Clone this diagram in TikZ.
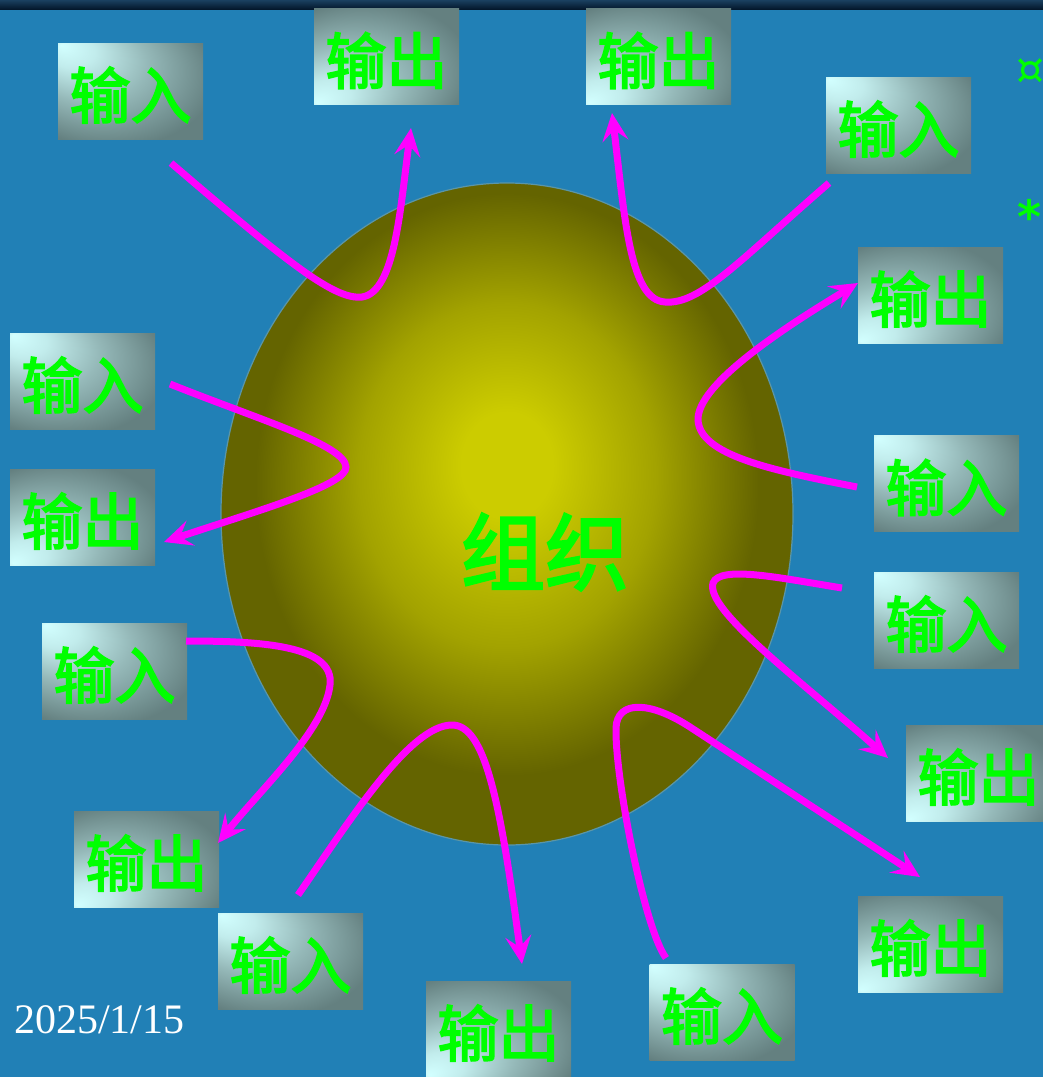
\documentclass[tikz,border=0pt]{standalone}
\usepackage{fontspec}
\setmainfont{Liberation Serif}
\newfontfamily\cjk[FakeBold=3]{Noto Sans CJK SC}
\newfontfamily\symf{DejaVu Sans}
\usetikzlibrary{arrows.meta}
\definecolor{bg}{RGB}{33,128,182}
\definecolor{topbarA}{RGB}{26,64,96}
\definecolor{topbarB}{RGB}{4,24,44}
\definecolor{boxlight}{RGB}{210,255,255}
\definecolor{boxgray}{RGB}{100,128,128}
\definecolor{txtgreen}{RGB}{0,255,0}
\definecolor{arrowc}{RGB}{255,0,255}
\definecolor{ballc}{RGB}{204,204,0}
\definecolor{balle}{RGB}{100,100,0}
\definecolor{balledge}{RGB}{90,150,168}
\pgfdeclareradialshading{inshade}{\pgfpoint{-24bp}{24bp}}{color(0bp)=(boxlight); color(8bp)=(boxlight!85!boxgray); color(20bp)=(boxlight!45!boxgray); color(36bp)=(boxgray); color(50bp)=(boxgray)}
\pgfdeclareradialshading{outshade}{\pgfpoint{-24bp}{-24bp}}{color(0bp)=(boxlight); color(8bp)=(boxlight!85!boxgray); color(20bp)=(boxlight!45!boxgray); color(36bp)=(boxgray); color(50bp)=(boxgray)}
\pgfdeclareradialshading{ballshade}{\pgfpoint{0bp}{4bp}}{color(0bp)=(ballc); color(4bp)=(ballc); color(13bp)=(ballc!60!balle); color(22bp)=(balle); color(50bp)=(balle)}
\tikzset{
  boxbase/.style={rectangle, minimum width=145pt, minimum height=96pt, inner sep=0pt,
    text=txtgreen, font=\cjk\fontsize{61}{61}\selectfont},
  inbox/.style={boxbase, shading=inshade},
  outbox/.style={boxbase, shading=outshade},
  conn/.style={draw=arrowc, line width=7pt, line cap=butt,
    -{Stealth[length=28pt,width=26pt,inset=11pt]}},
}
\newcommand{\lowtxt}[1]{\raisebox{-4pt}[\height][\depth]{#1}}
\begin{document}
\begin{tikzpicture}[x=1pt,y=-1pt]
\useasboundingbox (0,0) rectangle (1043,1077);
\fill[bg] (0,0) rectangle (1043,1077);
\shade[top color=topbarA, bottom color=topbarB] (0,0) rectangle (1043,9);
% organisation
\shade[shading=ballshade, draw=balledge, line width=1.2pt] (507,514) ellipse (286 and 331);
\node[text=txtgreen, font=\cjk\fontsize{84}{84}\selectfont] (org) at (545,552) {组织};
% boxes
\node[inbox]  (b1)  at (130.5,91)   {\lowtxt{输入}};
\node[outbox] (b2)  at (386.5,56.5) {\lowtxt{输出}};
\node[outbox] (b3)  at (658.5,56.5) {\lowtxt{输出}};
\node[inbox]  (b4)  at (898.5,125)  {\lowtxt{输入}};
\node[outbox] (b5)  at (930.5,295)  {\lowtxt{输出}};
\node[inbox]  (b6)  at (946.5,483.5){\lowtxt{输入}};
\node[inbox]  (b7)  at (946.5,620)  {\lowtxt{输入}};
\node[outbox] (b8)  at (978.5,773)  {\lowtxt{输出}};
\node[outbox] (b9)  at (930.5,944)  {\lowtxt{输出}};
\node[inbox]  (b10) at (722,1012)   {\lowtxt{输入}};
\node[outbox] (b11) at (498.5,1029) {\lowtxt{输出}};
\node[inbox]  (b12) at (290.5,961)  {\lowtxt{输入}};
\node[outbox] (b13) at (146.5,859)  {\lowtxt{输出}};
\node[inbox]  (b14) at (114.5,671)  {\lowtxt{输入}};
\node[outbox] (b15) at (82.5,517)   {\lowtxt{输出}};
\node[inbox]  (b16) at (82.5,381)   {\lowtxt{输入}};
% connector ends
\coordinate (s1) at (171,163);  \coordinate (e1) at (411,128);
\coordinate (s2) at (829,183);  \coordinate (e2) at (612,113);
\coordinate (s3) at (170,384);  \coordinate (e3) at (164,542);
\coordinate (s4) at (857,487);  \coordinate (e4) at (858,283);
\coordinate (s5) at (186,641);  \coordinate (e5) at (218,843);
\coordinate (s6) at (298,895);  \coordinate (e6) at (522,964);
\coordinate (s7) at (842,588);  \coordinate (e7) at (888,758);
\coordinate (s8) at (666,958);  \coordinate (e8) at (920,877);
% connectors
\draw[conn] (s1) .. controls (290,265) and (335,300) .. (362,297) .. controls (395,292) and (400,210) .. (e1);
\draw[conn] (s2) .. controls (740,260) and (700,305) .. (665,302) .. controls (630,300) and (625,220) .. (e2);
\draw[conn] (s3) .. controls (260,420) and (345,445) .. (346,467) .. controls (347,485) and (260,510) .. (e3);
\draw[conn] (s4) .. controls (770,470) and (700,455) .. (698,420) .. controls (697,385) and (780,330) .. (e4);
\draw[conn] (s5) .. controls (260,641) and (335,645) .. (330,685) .. controls (325,730) and (260,790) .. (e5);
\draw[conn] (s6) .. controls (350,820) and (410,725) .. (452,725) .. controls (485,725) and (500,800) .. (e6);
\draw[conn] (s7) .. controls (780,578) and (720,565) .. (713,583) .. controls (705,610) and (800,680) .. (e7);
\draw[conn] (s8) .. controls (645,930) and (615,780) .. (616,728) .. controls (617,700) and (650,701) .. (690,727) -- (e8);
% date and symbols
\node[anchor=base west, inner sep=0pt, text=white, font=\fontsize{42}{42}\selectfont] (date) at (14,1033) {2025/1/15};
\node[text=txtgreen, inner sep=0pt, font=\symf\fontsize{44}{44}\selectfont] (sym1) at (1030,72) {¤};
\node[text=txtgreen, inner sep=0pt, font=\symf\bfseries\fontsize{46}{46}\selectfont] (sym2) at (1030,216) {*};
\end{tikzpicture}
\end{document}
